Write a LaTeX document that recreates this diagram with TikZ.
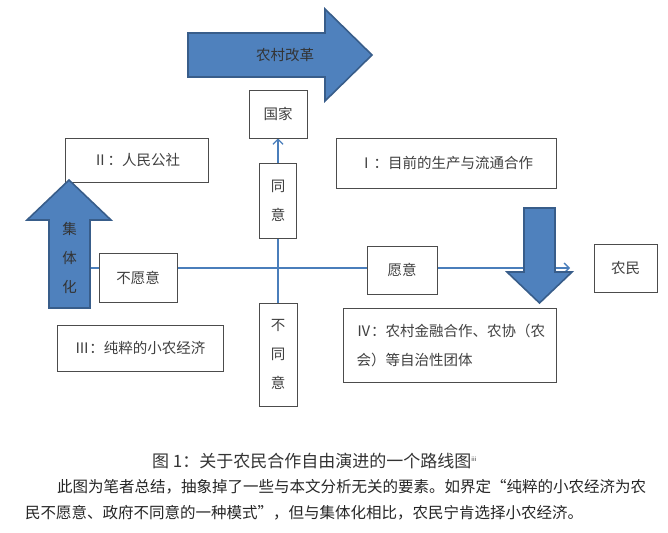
\documentclass[tikz,border=0pt]{standalone}
\usepackage{fontspec}
\setmainfont{Noto Sans CJK SC}
\usepackage{xcolor}
\definecolor{cBlue}{HTML}{4F81BD}
\definecolor{cBlueEdge}{HTML}{385D8A}
\definecolor{cLine}{HTML}{4A7EBB}
\definecolor{cText}{HTML}{404040}
\definecolor{cBody}{HTML}{262626}
\usetikzlibrary{arrows.meta,backgrounds}
\tikzset{
  node-box/.style={draw=black!70,line width=0.8pt,fill=white,inner sep=0pt,
    align=center,text=cText,font=\fontsize{14.5pt}{29pt}\selectfont},
  block-arrow/.style={draw=cBlueEdge,line width=1.6pt,fill=cBlue,line join=miter},
  arrow-label/.style={inner sep=0pt,align=center,text=black!80,
    font=\fontsize{14.5pt}{29pt}\selectfont},
  conn/.style={draw=cLine,line width=1.3pt},
  conn-arrow/.style={conn,-{Straight Barb[length=5pt,width=10pt]}},
  caption-text/.style={inner sep=0pt,anchor=west,text=cBody},
}

\begin{document}
\begin{tikzpicture}[x=1pt,y=-1pt]
  \useasboundingbox (0,0) rectangle (668,532);
  % 方框
  \node[node-box,minimum width=58pt,minimum height=48pt]  (guojia)   at (278,114)   {国家};
  \node[node-box,minimum width=220pt,minimum height=50pt] (q1)       at (446,163)   {Ⅰ：目前的生产与流通合作};
  \node[node-box,minimum width=143pt,minimum height=44pt] (q2)       at (136.5,160) {Ⅱ：人民公社};
  \node[node-box,minimum width=37pt,minimum height=75pt]  (tongyi)   at (278,200.5) {同\\意};
  \node[node-box,minimum width=78pt,minimum height=49pt]  (buyuanyi) at (138,277.5) {不愿意};
  \node[node-box,minimum width=70pt,minimum height=48pt]  (yuanyi)   at (402,270)   {愿意};
  \node[node-box,minimum width=63pt,minimum height=48pt]  (nongmin)  at (625.5,268) {农民};
  \node[node-box,minimum width=38pt,minimum height=103pt] (butongyi) at (278,354.5) {不\\同\\意};
  \node[node-box,minimum width=166pt,minimum height=46pt] (q3)       at (140,348)   {Ⅲ：纯粹的小农经济};
  \node[node-box,minimum width=213pt,minimum height=74pt,text width=186pt,align=left]
                                                          (q4)       at (449.5,345) {Ⅳ：农村金融合作、农协（农\\会）等自治性团体};
  % 连线
  \coordinate (hstart) at (90,268);
  \coordinate (hend)   at (570,268);
  \begin{scope}[on background layer]
    \draw[conn-arrow] (hstart) -- (hend);
    \draw[conn-arrow] (butongyi.north) -- (guojia.south);
  \end{scope}
  % 块状箭头
  \draw[block-arrow] (188,33) -- (325,33) -- (325,9) -- (372,55) -- (325,101)
    -- (325,77) -- (188,77) -- cycle;
  \node[arrow-label] (gaige) at (285,55) {农村改革};
  \draw[block-arrow] (49,308) -- (49,220) -- (27,220) -- (69,180) -- (111,220)
    -- (90,220) -- (90,308) -- cycle;
  \node[arrow-label] (jitihua) at (69.5,258) {集\\体\\化};
  \draw[block-arrow] (524,208) -- (555,208) -- (555,272) -- (572,272) -- (539.5,303)
    -- (507,272) -- (524,272) -- cycle;
  % 图题与正文
  \node[caption-text,text=black!80,font=\fontsize{17pt}{20pt}\selectfont] (caption) at (152,461)
    {图 1：关于农民合作自由演进的一个路线图\textsuperscript{\fontsize{6pt}{6pt}\selectfont iii}};
  \node[caption-text,font=\fontsize{15.5pt}{18pt}\selectfont] (body1) at (57,487)
    {此图为笔者总结，抽象掉了一些与本文分析无关的要素。如界定“纯粹的小农经济为农};
  \node[caption-text,font=\fontsize{15.5pt}{18pt}\selectfont] (body2) at (25,513)
    {民不愿意、政府不同意的一种模式”，但与集体化相比，农民宁肯选择小农经济。};
\end{tikzpicture}
\end{document}
